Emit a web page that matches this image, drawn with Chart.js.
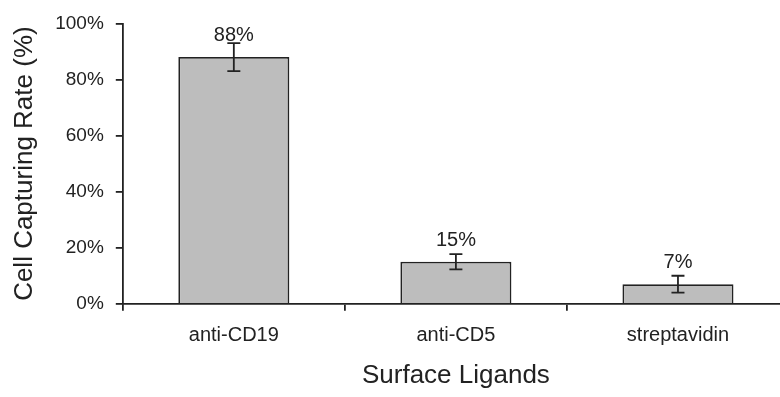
<!DOCTYPE html>
<html>
<head>
<meta charset="utf-8">
<script src="https://cdn.jsdelivr.net/npm/chart.js@4.4.0/dist/chart.umd.min.js"></script>
<style>
    html, body { margin: 0; padding: 0; background: #fff; overflow: hidden; }
    /* the source figure is cropped a little at the right, so the plot runs past the window edge */
    #wrap { width: 789px; height: 397px; position: relative; }
</style>
</head>
<body>
<div id="wrap"><canvas id="capChart"></canvas></div>
<script>
// ============================================================
// DATA
// ============================================================
const ligands = ['anti-CD19', 'anti-CD5', 'streptavidin'];
const captureRate = [88, 15, 7];
const captureErr = [5, 2.7, 3];
const yTicks = [0, 20, 40, 60, 80, 100];

const ink = '#222';
const fontFam = '"Liberation Sans", Arial, sans-serif';

// error bars + value labels
const errorBarPlugin = {
    id: 'errorBars',
    afterDatasetsDraw(chart) {
        const ctx = chart.ctx;
        const meta = chart.getDatasetMeta(0);
        const y = chart.scales.y;
        ctx.save();
        ctx.strokeStyle = ink;
        ctx.lineWidth = 1.8;
        meta.data.forEach((bar, i) => {
            const x = bar.x;
            const top = y.getPixelForValue(captureRate[i] + captureErr[i]);
            const bot = y.getPixelForValue(captureRate[i] - captureErr[i]);
            ctx.beginPath();
            ctx.moveTo(x, top); ctx.lineTo(x, bot);
            ctx.moveTo(x - 6.5, top); ctx.lineTo(x + 6.5, top);
            ctx.moveTo(x - 6.5, bot); ctx.lineTo(x + 6.5, bot);
            ctx.stroke();

            ctx.fillStyle = ink;
            ctx.font = '20px ' + fontFam;
            ctx.textAlign = 'center';
            ctx.textBaseline = 'alphabetic';
            ctx.fillText(captureRate[i] + '%', x, bar.y - 16);
        });
        ctx.restore();
    }
};

new Chart(document.getElementById('capChart'), {
    type: 'bar',
    data: {
        labels: ligands,
        datasets: [{
            data: captureRate,
            backgroundColor: '#bdbdbd',
            borderColor: ink,
            borderWidth: 1.8,
            borderSkipped: 'bottom',
            categoryPercentage: 0.5,
            barPercentage: 1.0
        }]
    },
    options: {
        responsive: true,
        maintainAspectRatio: false,
        animation: false,
        layout: { padding: { top: 10, right: 0, bottom: 6, left: 0 } },
        plugins: {
            legend: { display: false },
            tooltip: { enabled: false }
        },
        scales: {
            x: {
                grid: {
                    offset: true,
                    drawOnChartArea: false,
                    color: ink,
                    lineWidth: 1.8,
                    tickLength: 7
                },
                border: { color: ink, width: 1.8 },
                ticks: {
                    color: ink,
                    font: { family: fontFam, size: 20 },
                    padding: 12.5
                },
                title: {
                    display: true,
                    text: 'Surface Ligands',
                    color: ink,
                    font: { family: fontFam, size: 26 },
                    padding: { top: 0, bottom: 0 }
                }
            },
            y: {
                min: 0,
                max: 100,
                afterBuildTicks(axis) {
                    axis.ticks = yTicks.map(v => ({ value: v }));
                },
                grid: {
                    drawOnChartArea: false,
                    color: ink,
                    lineWidth: 1.8,
                    tickLength: 7
                },
                border: { color: ink, width: 1.8 },
                ticks: {
                    color: ink,
                    font: { family: fontFam, size: 19 },
                    padding: 12,
                    callback: v => v + '%'
                },
                title: {
                    display: true,
                    text: 'Cell Capturing Rate (%)',
                    color: ink,
                    font: { family: fontFam, size: 26 },
                    padding: { top: 9, bottom: 3 }
                }
            }
        }
    },
    plugins: [errorBarPlugin]
});
</script>
</body>
</html>
